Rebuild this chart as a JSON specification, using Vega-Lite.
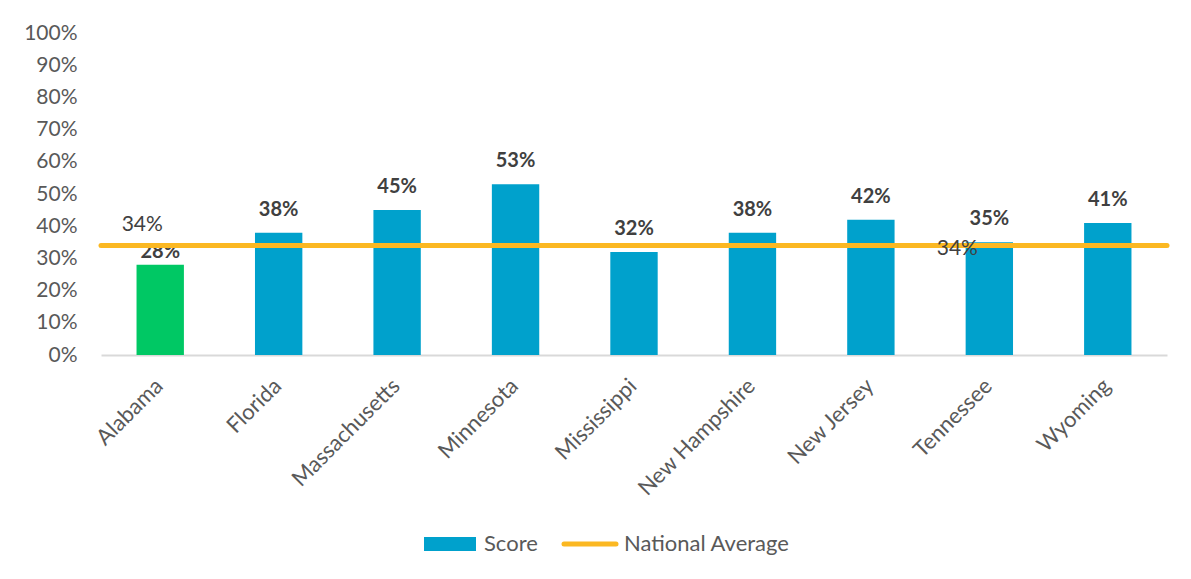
{
  "$schema": "https://vega.github.io/schema/vega-lite/v6.json",
  "width": 1066,
  "height": 322,
  "padding": {"left": 101, "top": 33, "right": 24, "bottom": 224},
  "autosize": {"type": "none"},
  "background": "white",
  "config": {
    "view": {"stroke": null},
    "font": "Lato",
    "axis": {"labelFont": "Lato", "labelColor": "#595959", "ticks": false, "grid": false, "title": null, "labelOverlap": false}
  },
  "datasets": {
    "scores": [
      {"state": "Alabama", "score": 0.28, "avg": 0.34, "series": "Score"},
      {"state": "Florida", "score": 0.38, "avg": 0.34, "series": "Score"},
      {"state": "Massachusetts", "score": 0.45, "avg": 0.34, "series": "Score"},
      {"state": "Minnesota", "score": 0.53, "avg": 0.34, "series": "Score"},
      {"state": "Mississippi", "score": 0.32, "avg": 0.34, "series": "Score"},
      {"state": "New Hampshire", "score": 0.38, "avg": 0.34, "series": "Score"},
      {"state": "New Jersey", "score": 0.42, "avg": 0.34, "series": "Score"},
      {"state": "Tennessee", "score": 0.35, "avg": 0.34, "series": "Score"},
      {"state": "Wyoming", "score": 0.41, "avg": 0.34, "series": "Score"}
    ],
    "national": [
      {"series": "National Average", "value": 0.34}
    ]
  },
  "layer": [
    {
      "data": {"name": "scores"},
      "mark": {"type": "bar"},
      "encoding": {
        "x": {
          "field": "state", "type": "nominal", "sort": null,
          "scale": {"paddingInner": 0.6, "paddingOuter": 0.3},
          "axis": {"labelAngle": -45, "labelPadding": 20, "labelOffset": -8, "labelFontSize": 22, "labelLimit": 300, "domainColor": "#D9D9D9", "domainWidth": 2}
        },
        "y": {
          "field": "score", "type": "quantitative",
          "scale": {"domain": [0, 1]},
          "axis": {"format": ".0%", "values": [0, 0.1, 0.2, 0.3, 0.4, 0.5, 0.6, 0.7, 0.8, 0.9, 1], "tickCount": 11, "labelOverlap": false, "labelFontSize": 21, "domain": false, "labelPadding": 24}
        },
        "color": {
          "condition": {"test": "datum.state === 'Alabama'", "value": "#00C864"},
          "field": "series", "type": "nominal",
          "scale": {"domain": ["Score", "National Average"], "range": ["#00A1CC", "#FBB822"]},
          "legend": {
            "orient": "none",
            "legendX": 338,
            "legendY": 500,
            "direction": "horizontal",
            "title": null,
            "symbolSize": 2704,
            "labelFont": "Lato",
            "labelFontSize": 22,
            "labelColor": "#595959",
            "labelOffset": 23,
            "labelLimit": 400,
            "columnPadding": 16,
            "encode": {
              "symbols": {
                "update": {
                  "shape": {"signal": "datum.value === 'Score' ? 'M-1,-0.27H1V0.27H-1Z' : 'M-1,0H1'"},
                  "fill": {"signal": "datum.value === 'Score' ? '#00A1CC' : 'transparent'"},
                  "stroke": {"signal": "datum.value === 'Score' ? 'transparent' : '#FBB822'"},
                  "strokeWidth": {"signal": "datum.value === 'Score' ? 0 : 5"},
                  "strokeCap": {"value": "round"},
                  "opacity": {"value": 1}
                }
              }
            }
          }
        }
      }
    },
    {
      "data": {"name": "scores"},
      "transform": [{"filter": "datum.state !== 'Alabama'"}],
      "mark": {"type": "text", "font": "Lato", "fontSize": 20, "fontWeight": "bold", "color": "#404040", "baseline": "middle", "dy": -23},
      "encoding": {
        "x": {"field": "state", "type": "nominal", "sort": null},
        "y": {"field": "score", "type": "quantitative"},
        "text": {"field": "score", "type": "quantitative", "format": ".0%"}
      }
    },
    {
      "data": {"name": "scores"},
      "transform": [{"filter": "datum.state === 'Alabama'"}],
      "mark": {"type": "text", "font": "Lato", "fontSize": 20, "fontWeight": "bold", "color": "#404040", "baseline": "middle", "dy": -13},
      "encoding": {
        "x": {"field": "state", "type": "nominal", "sort": null},
        "y": {"field": "score", "type": "quantitative"},
        "text": {"field": "score", "type": "quantitative", "format": ".0%"}
      }
    },
    {
      "data": {"name": "national"},
      "mark": {"type": "rule", "strokeWidth": 5, "strokeCap": "round"},
      "encoding": {
        "y": {"field": "value", "type": "quantitative"},
        "color": {"field": "series", "type": "nominal"}
      }
    },
    {
      "data": {"name": "scores"},
      "transform": [{"filter": "datum.state === 'Alabama'"}],
      "mark": {"type": "text", "font": "Lato", "fontSize": 21, "color": "#404040", "baseline": "middle", "dx": -18, "dy": -21},
      "encoding": {
        "x": {"field": "state", "type": "nominal", "sort": null},
        "y": {"field": "avg", "type": "quantitative"},
        "text": {"field": "avg", "type": "quantitative", "format": ".0%"}
      }
    },
    {
      "data": {"name": "scores"},
      "transform": [{"filter": "datum.state === 'Tennessee'"}],
      "mark": {"type": "text", "font": "Lato", "fontSize": 21, "color": "#404040", "baseline": "middle", "dx": -32, "dy": 3},
      "encoding": {
        "x": {"field": "state", "type": "nominal", "sort": null},
        "y": {"field": "avg", "type": "quantitative"},
        "text": {"field": "avg", "type": "quantitative", "format": ".0%"}
      }
    }
  ]
}
